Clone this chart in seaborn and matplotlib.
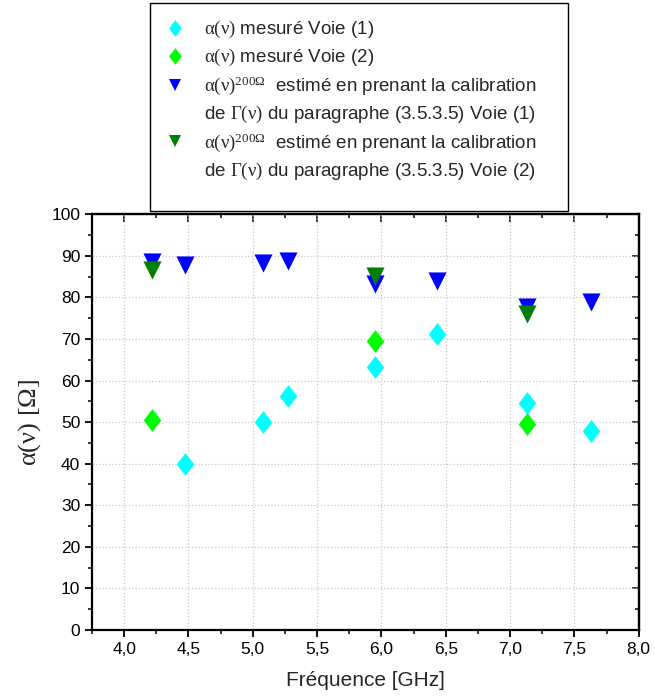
import matplotlib
matplotlib.use("Agg")
import matplotlib.pyplot as plt
from matplotlib.lines import Line2D
from matplotlib.patches import Rectangle
from matplotlib.ticker import MultipleLocator, FuncFormatter
import seaborn as sns
import pandas as pd

freq_v1 = [4.47, 5.08, 5.27, 5.95, 6.43, 7.13, 7.63]
alpha_v1 = [39.9, 50.0, 56.4, 63.2, 71.1, 54.7, 47.9]
freq_v2 = [4.22, 5.95, 7.13]
alpha_v2 = [50.4, 69.6, 49.6]
freq_est_v1 = [4.22, 4.47, 5.08, 5.27, 5.95, 6.43, 7.13, 7.63]
alpha_est_v1 = [88.6, 87.9, 88.2, 88.7, 83.3, 84.0, 77.7, 78.8]
freq_est_v2 = [4.22, 5.95, 7.13]
alpha_est_v2 = [86.5, 85.1, 76.1]

labels = [
    r"$\alpha(\nu)$ mesuré Voie (1)",
    r"$\alpha(\nu)$ mesuré Voie (2)",
    r"$\alpha(\nu)^{200\Omega}$  estimé en prenant la calibration",
    r"de $\Gamma(\nu)$ du paragraphe (3.5.3.5) Voie (1)",
    r"$\alpha(\nu)^{200\Omega}$  estimé en prenant la calibration",
    r"de $\Gamma(\nu)$ du paragraphe (3.5.3.5) Voie (2)",
]

CYAN, GREEN, BLUE, DKGREEN = "#00FFFF", "#00FF00", "#0000FF", "#008000"
diamond = [(0, 1), (0.77, 0), (0, -1), (-0.77, 0), (0, 1)]

sns.set_style("white")
plt.rcParams["font.family"] = ["Liberation Sans", "DejaVu Sans"]
plt.rcParams["mathtext.fontset"] = "custom"
plt.rcParams["mathtext.rm"] = "Liberation Serif"
plt.rcParams["mathtext.it"] = "Liberation Serif"
plt.rcParams["mathtext.default"] = "rm"

fig = plt.figure(figsize=(6.55, 7.0), dpi=100)
ax = fig.add_axes([0.1405, 0.1, 0.8346, 0.5939])

df1 = pd.DataFrame({"f": freq_v1, "a": alpha_v1})
df2 = pd.DataFrame({"f": freq_v2, "a": alpha_v2})
df3 = pd.DataFrame({"f": freq_est_v1, "a": alpha_est_v1})
df4 = pd.DataFrame({"f": freq_est_v2, "a": alpha_est_v2})

sns.scatterplot(data=df1, x="f", y="a", marker=diamond, s=270, color=CYAN, linewidth=0, ax=ax, zorder=3)
sns.scatterplot(data=df2, x="f", y="a", marker=diamond, s=270, color=GREEN, linewidth=0, ax=ax, zorder=3)
sns.scatterplot(data=df3, x="f", y="a", marker="v", s=170, color=BLUE, linewidth=0, ax=ax, zorder=3)
sns.scatterplot(data=df4, x="f", y="a", marker="v", s=170, color=DKGREEN, linewidth=0, ax=ax, zorder=3)

ax.set_xlim(3.75, 8.0)
ax.set_ylim(0, 100)
ax.xaxis.set_major_locator(MultipleLocator(0.5))
ax.xaxis.set_minor_locator(MultipleLocator(0.25))
ax.yaxis.set_major_locator(MultipleLocator(10))
ax.yaxis.set_minor_locator(MultipleLocator(5))
ax.xaxis.set_major_formatter(FuncFormatter(lambda v, p: f"{v:.1f}".replace(".", ",")))
ax.grid(True, which="major", color="#c8c8c8", linestyle=":", linewidth=0.9)

for s in ax.spines.values():
    s.set_linewidth(1.6)
    s.set_color("black")
ax.tick_params(which="major", direction="out", length=5, width=1.3, labelsize=12.5, colors="black")
ax.tick_params(which="minor", direction="out", length=2.7, width=1.3)
ax.tick_params(bottom=True, left=True, which="both")

# ticks internes en haut et a droite
top = ax.secondary_xaxis("top")
top.xaxis.set_major_locator(MultipleLocator(0.5))
top.xaxis.set_minor_locator(MultipleLocator(0.25))
top.tick_params(which="major", direction="in", length=5.5, width=1.3, labeltop=False)
top.tick_params(which="minor", direction="in", length=3, width=1.3)
right = ax.secondary_yaxis("right")
right.yaxis.set_major_locator(MultipleLocator(10))
right.yaxis.set_minor_locator(MultipleLocator(5))
right.tick_params(which="major", direction="in", length=5, width=1.3, labelright=False)
right.tick_params(which="minor", direction="in", length=3, width=1.3)
for sec in (top, right):
    for s in sec.spines.values():
        s.set_linewidth(1.6)

ax.set_xlabel("Fréquence [GHz]", fontsize=15, labelpad=10)
ax.set_ylabel(r"$\alpha(\nu)\ [\Omega]$", fontsize=19, labelpad=6)

handles = [
    Line2D([], [], marker=diamond, color=CYAN, linestyle="none", markersize=12, markeredgewidth=0),
    Line2D([], [], marker=diamond, color=GREEN, linestyle="none", markersize=12, markeredgewidth=0),
    Line2D([], [], marker="v", color=BLUE, linestyle="none", markersize=9, markeredgewidth=0),
    Line2D([], [], linestyle="none", marker=""),
    Line2D([], [], marker="v", color=DKGREEN, linestyle="none", markersize=9, markeredgewidth=0),
    Line2D([], [], linestyle="none", marker=""),
]
fig.legend(handles, labels, loc="upper left", bbox_to_anchor=(152.5 / 655, 1 - 10 / 700),
           frameon=False, fontsize=13.5, handlelength=1.4, handletextpad=0.85,
           labelspacing=0.35, borderpad=0.5, borderaxespad=0)
fig.patches.append(Rectangle((150 / 655, 1 - 210.5 / 700), 418 / 655, 207.5 / 700,
                             transform=fig.transFigure, fill=False, edgecolor="black", linewidth=1.0))

fig.savefig("out.png", dpi=100)
